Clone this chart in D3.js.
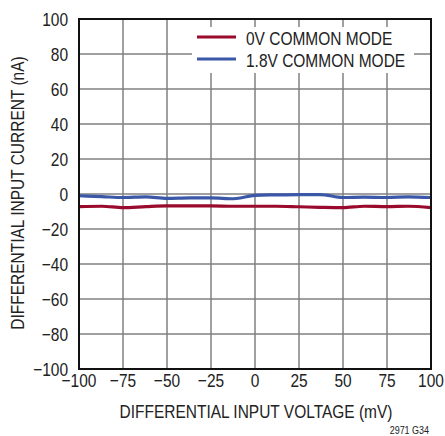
<!DOCTYPE html>
<html><head><meta charset="utf-8">
<script src="https://cdn.jsdelivr.net/npm/d3@7"></script>
<style>
body{margin:0;background:#fff;}
text{font-family:"Liberation Sans","Arial",sans-serif;fill:#222;}
</style></head>
<body><svg id="c" width="445" height="436"></svg>
<script>
const xTicks = [-100,-75,-50,-25,0,25,50,75,100];
const yTicks = [-100,-80,-60,-40,-20,0,20,40,60,80,100];
const xTickLabels = ["\u2212100","\u221275","\u221250","\u221225","0","25","50","75","100"];
const yTickLabels = ["\u2212100","\u221280","\u221260","\u221240","\u221220","0","20","40","60","80","100"];
const voltage = [-100,-87,-75,-62,-50,-37,-25,-12,0,12,25,37,50,62,75,87,100];
const cm0 = [-7.2,-7.0,-7.8,-7.2,-6.8,-6.8,-6.8,-7.0,-7.0,-7.0,-7.3,-7.6,-7.8,-7.0,-7.2,-7.0,-7.8];
const cm18 = [-1.0,-1.5,-2.0,-1.6,-2.5,-2.2,-2.2,-2.7,-0.8,-0.5,-0.3,-0.3,-2.0,-1.8,-2.0,-1.6,-2.0];
const seriesNames = ["0V COMMON MODE","1.8V COMMON MODE"];
const colors = ["#990a2c","#3b58a8"];

const svg = d3.select("#c");
const L=79,R=431,T=19,B=369;
const SX=0.815, FS=19;
const x = d3.scaleLinear().domain([-100,100]).range([L,R]);
const y = d3.scaleLinear().domain([-100,100]).range([B,T]);

function txt(g, px, py, s, size, anchor, rot){
  return g.append("text")
    .attr("transform",`translate(${px},${py})`+(rot?` rotate(${rot})`:"")+` scale(${SX},1)`)
    .attr("text-anchor",anchor||"start").attr("font-size",size).text(s);
}

// grid
svg.append("g").selectAll("line").data(xTicks.slice(1,-1)).join("line")
  .attr("x1",d=>x(d)).attr("x2",d=>x(d)).attr("y1",T).attr("y2",B)
  .attr("stroke","#808080").attr("stroke-width",1.5);
svg.append("g").selectAll("line").data(yTicks.slice(1,-1)).join("line")
  .attr("y1",d=>y(d)).attr("y2",d=>y(d)).attr("x1",L).attr("x2",R)
  .attr("stroke","#808080").attr("stroke-width",1.5);

// legend background
svg.append("rect").attr("x",192).attr("y",27).attr("width",222).attr("height",46).attr("fill","#fff");

// lines
const line = d3.line().x((d,i)=>x(voltage[i])).y(d=>y(d)).curve(d3.curveMonotoneX);
[[cm18,colors[1]],[cm0,colors[0]]].forEach(([s,c])=>{
  svg.append("path").datum(s).attr("d",line).attr("fill","none")
    .attr("stroke",c).attr("stroke-width",3.2);
});

// frame
svg.append("rect").attr("x",L).attr("y",T).attr("width",R-L).attr("height",B-T)
  .attr("fill","none").attr("stroke","#111").attr("stroke-width",2);

// tick labels
const gx = svg.append("g");
xTicks.forEach((d,i)=>txt(gx, x(d), 387, xTickLabels[i], FS, "middle"));
const gy = svg.append("g");
yTicks.forEach((d,i)=>txt(gy, 68, y(d)+7, yTickLabels[i], FS, "end"));

// axis titles
txt(svg, 256, 418, "DIFFERENTIAL INPUT VOLTAGE (mV)", FS, "middle");
txt(svg, 24, 193, "DIFFERENTIAL INPUT CURRENT (nA)", FS, "middle", -90);
txt(svg, 429, 434, "2971 G34", 11, "end");

// legend
seriesNames.forEach((n,i)=>{
  const ly = 37 + i*22;
  svg.append("line").attr("x1",197).attr("x2",236).attr("y1",ly).attr("y2",ly)
    .attr("stroke",colors[i]).attr("stroke-width",3.2);
  txt(svg, 246, ly+7.5, n, FS, "start");
});
</script></body></html>
